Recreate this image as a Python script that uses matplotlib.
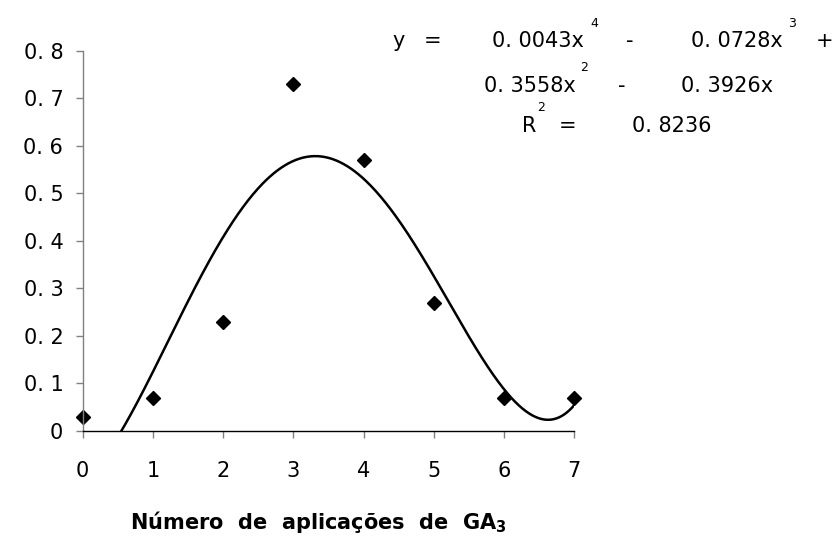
import numpy as np
import matplotlib
matplotlib.use("Agg")
from matplotlib import pyplot as plt

plt.rcParams["font.family"] = ["DejaVu Sans"]
plt.rcParams["mathtext.fontset"] = "dejavusans"

# dados
aplicacoes = [0, 1, 2, 3, 4, 5, 6, 7]
valores = [0.03, 0.07, 0.23, 0.73, 0.57, 0.27, 0.07, 0.07]
yticks = [0, 0.1, 0.2, 0.3, 0.4, 0.5, 0.6, 0.7, 0.8]
ylabels = ["0", "0. 1", "0. 2", "0. 3", "0. 4", "0. 5", "0. 6", "0. 7", "0. 8"]

# equacao da linha de tendencia: (texto, x px, y px da linha de base, alinhamento, expoente?)
eq_partes = [
    ("y", 405, 47, "right", False), ("=", 433, 47, "center", False),
    ("0. 0043x", 584, 47, "right", False), ("4", 594, 27, "center", True),
    ("-", 630, 47, "center", False),
    ("0. 0728x", 783, 47, "right", False), ("3", 792, 27, "center", True),
    ("+", 825, 47, "center", False),
    ("0. 3558x", 576, 92, "right", False), ("2", 584, 71, "center", True),
    ("-", 622, 92, "center", False),
    ("0. 3926x", 773, 92, "right", False),
    ("R", 536, 132, "right", False), ("2", 541, 111, "center", True),
    ("=", 568, 132, "center", False),
    ("0. 8236", 712, 132, "right", False),
]

# linha de tendencia polinomial (ordem 4, intercepto 0, eixo x do Excel = 1..8)
t = np.array(aplicacoes, dtype=float) + 1
A = np.column_stack([t**4, t**3, t**2, t])
coef, *_ = np.linalg.lstsq(A, np.array(valores), rcond=None)
xs = np.linspace(0, 7, 400)
ts = xs + 1
ys = coef[0]*ts**4 + coef[1]*ts**3 + coef[2]*ts**2 + coef[3]*ts

fig = plt.figure(figsize=(8.4, 5.38), dpi=100)
ax = fig.add_axes([0.0985, 0.199, 0.585, 0.7066])

ax.plot(xs, ys, color="black", lw=1.8)
ax.plot(aplicacoes, valores, "D", color="black", markersize=7, clip_on=False)

ax.set_xlim(0, 7)
ax.set_ylim(0, 0.8)
ax.set_xticks(aplicacoes)
ax.set_xticklabels([str(a) for a in aplicacoes], fontsize=15)
ax.set_yticks(yticks)
ax.set_yticklabels(ylabels, fontsize=15)

for s in ["top", "right"]:
    ax.spines[s].set_visible(False)
ax.spines["left"].set_color("#808080")
ax.spines["left"].set_linewidth(1)
ax.spines["bottom"].set_color("black")
ax.spines["bottom"].set_linewidth(1)
ax.tick_params(axis="y", direction="out", length=5, width=1, color="#808080", pad=9)
ax.tick_params(axis="x", direction="out", length=5, width=1, color="#808080", pad=17)

ax.set_xlabel("Número  de  aplicações  de  GA$_{\\mathregular{3}}$", fontsize=15,
              fontweight="bold")
ax.xaxis.set_label_coords(0.48, -0.205)

W, H = 840, 538
for txt, px, py, ha, sup in eq_partes:
    fig.text(px / W, 1 - py / H, txt, fontsize=9 if sup else 15,
             ha=ha, va="baseline")

fig.savefig("out.png", dpi=100)
